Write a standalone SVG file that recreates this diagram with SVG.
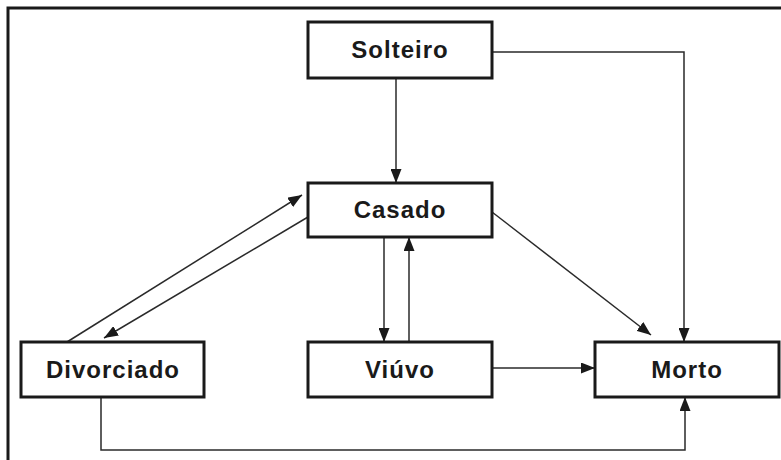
<svg xmlns="http://www.w3.org/2000/svg" width="781" height="460" viewBox="0 0 781 460">
<defs>
<marker id="ah" viewBox="0 0 14 11" refX="14" refY="5.5" markerWidth="14" markerHeight="11" markerUnits="userSpaceOnUse" orient="auto">
<path d="M0,0 L14,5.5 L0,11 Z" fill="#1a1a1a"/>
</marker>
<style>
.box{fill:#fff;stroke:#1a1a1a;stroke-width:3}
.lbl{font-family:"Liberation Sans",Arial,sans-serif;font-weight:bold;font-size:24px;letter-spacing:1px;fill:#1a1a1a;text-anchor:middle}
.c{fill:none;stroke:#2a2a2a;stroke-width:1.5;marker-end:url(#ah)}
.frame{stroke:#1a1a1a;stroke-width:3;fill:none}
</style>
</defs>
<rect width="781" height="460" fill="#fff"/>
<path class="frame" d="M8,460 L8,8 L781,8"/>
<g id="connectors">
<path class="c" d="M396,78 L396,183"/>
<path class="c" d="M492,52 L684,52 L684,342"/>
<path class="c" d="M384,237 L384,342"/>
<path class="c" d="M409,342 L409,237"/>
<path class="c" d="M308,217 L104,338"/>
<path class="c" d="M67,342 L302,195"/>
<path class="c" d="M492,212 L651,335"/>
<path class="c" d="M492,368 L595,368"/>
<path class="c" d="M101,397 L101,450 L685,450 L685,397"/>
</g>
<g id="solteiro"><rect class="box" x="308" y="22" width="184" height="56"/><text class="lbl" x="400" y="58">Solteiro</text></g>
<g id="casado"><rect class="box" x="308" y="183" width="184" height="54"/><text class="lbl" x="400" y="218">Casado</text></g>
<g id="divorciado"><rect class="box" x="21" y="342" width="183" height="55"/><text class="lbl" x="113" y="378">Divorciado</text></g>
<g id="viuvo"><rect class="box" x="308" y="342" width="184" height="55"/><text class="lbl" x="400" y="378">Viúvo</text></g>
<g id="morto"><rect class="box" x="595" y="342" width="184" height="55"/><text class="lbl" x="687" y="378">Morto</text></g>
</svg>
